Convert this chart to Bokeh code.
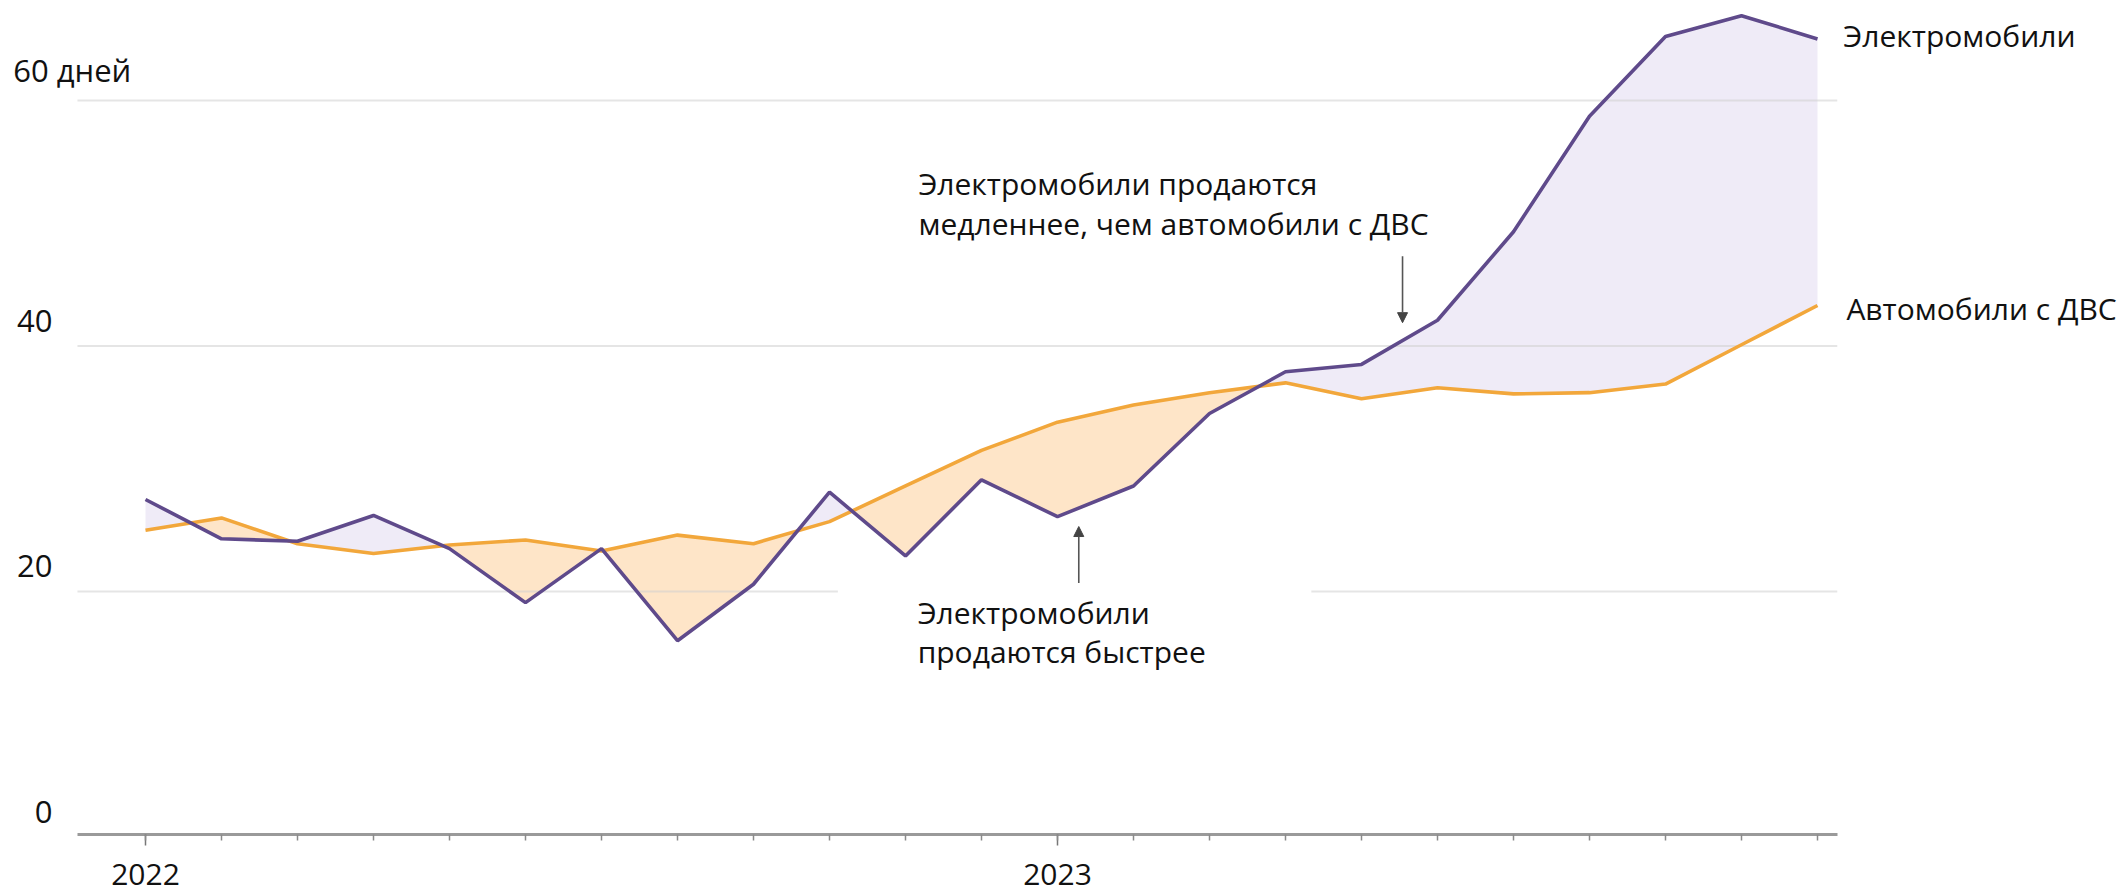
import numpy as np
from bokeh.plotting import figure
from bokeh.models import Range1d, FixedTicker, Label, Arrow, NormalHead
from bokeh.embed import file_html
from bokeh.resources import INLINE

# ---- data (days to sell), monthly Jan 2022 .. Nov 2023 ----
months = list(range(23))
ev_days = [27.5, 24.3, 24.1, 26.2, 23.5, 19.1, 23.5, 16.0, 20.6, 28.1, 22.9, 29.1,
           26.1, 28.6, 34.5, 37.9, 38.5, 42.1, 49.3, 58.7, 65.2, 66.9, 65.0]
ice_days = [25.0, 26.0, 23.9, 23.1, 23.8, 24.2, 23.3, 24.6, 23.9, 25.7, 28.6, 31.5,
            33.8, 35.2, 36.2, 37.0, 35.7, 36.6, 36.1, 36.2, 36.9, 40.1, 43.3]
year_ticks = [0, 12]
year_labels = ["2022", "2023"]
y_tick_values = [0, 20, 40, 60]
y_tick_labels = ["0", "20", "40", "60 дней"]
series_names = ["Электромобили", "Автомобили с ДВС"]

FONT = "Open Sans"
FS = "30px"
FS_Y = "31px"
TXT = "#111111"
PURPLE = "#5f4a8b"
ORANGE = "#f2a73b"
PURPLE_FILL = "#efebf7"
ORANGE_FILL = "#fee5c8"

# insert crossing points so fills switch colour exactly where lines cross
xs, ev_d, ice_d = [], [], []
for i in range(len(months)):
    xs.append(months[i]); ev_d.append(ev_days[i]); ice_d.append(ice_days[i])
    if i < len(months) - 1:
        d0 = ev_days[i] - ice_days[i]
        d1 = ev_days[i + 1] - ice_days[i + 1]
        if d0 * d1 < 0:
            t = d0 / (d0 - d1)
            xc = months[i] + t * (months[i + 1] - months[i])
            yc = ev_days[i] + t * (ev_days[i + 1] - ev_days[i])
            xs.append(xc); ev_d.append(yc); ice_d.append(yc)
xs = np.array(xs); ev_d = np.array(ev_d); ice_d = np.array(ice_d)

W, H = 2124, 892
PX_X = 76.0          # px per month
X_ORIGIN = 145.0     # px of first month
PX_Y = 12.28         # px per day
Y_ZERO = 836.7       # px of value 0
BOTTOM = 58          # px below frame

x_start = -X_ORIGIN / PX_X
x_end = (W - X_ORIGIN) / PX_X
y_end = Y_ZERO / PX_Y
y_start = -((H - BOTTOM) - Y_ZERO) / PX_Y

AX0, AX1 = -0.895, 22.26   # extent of axis line / gridlines

p = figure(width=W, height=H, output_backend="svg", toolbar_location=None,
           x_range=Range1d(x_start, x_end), y_range=Range1d(y_start, y_end),
           y_axis_location=None, min_border_left=0, min_border_right=0,
           min_border_top=0, min_border_bottom=BOTTOM)
p.outline_line_color = None
p.grid.visible = False
p.background_fill_color = "white"
p.border_fill_color = "white"

# fills
p.varea(x=xs, y1=ice_d, y2=np.maximum(ev_d, ice_d), fill_color=PURPLE_FILL)
p.varea(x=xs, y1=np.minimum(ev_d, ice_d), y2=ice_d, fill_color=ORANGE_FILL)

# gridlines (with a gap behind the lower annotation)
p.segment(x0=[AX0, AX0, AX0, 15.34], y0=[60, 40, 20, 20], x1=[AX1, AX1, 9.11, AX1], y1=[60, 40, 20, 20],
          line_color="#cfcfcf", line_alpha=0.55, line_width=2)

# lines
p.line(months, ice_days, line_color=ORANGE, line_width=3.6)
p.line(months, ev_days, line_color=PURPLE, line_width=3.6)

# x axis
ax = p.xaxis[0]
ax.bounds = (AX0, AX1)
ax.ticker = FixedTicker(ticks=year_ticks, minor_ticks=months)
ax.major_label_overrides = {t: l for t, l in zip(year_ticks, year_labels)}
ax.axis_line_color = "#9a9a9a"
ax.axis_line_width = 3
ax.major_tick_line_color = "#777777"
ax.minor_tick_line_color = "#8a8a8a"
ax.major_tick_line_width = 1.5
ax.minor_tick_line_width = 1.5
ax.major_tick_out = 11
ax.major_tick_in = 0
ax.minor_tick_out = 6
ax.minor_tick_in = 0
ax.major_label_standoff = 18
ax.major_label_text_font = FONT
ax.major_label_text_font_size = FS
ax.major_label_text_color = TXT

def lab(x, y, text, align="left", size=FS):
    p.add_layout(Label(x=x, y=y, text=text, text_font=FONT, text_font_size=size,
                       text_color=TXT, text_align=align, text_baseline="alphabetic"))

# y tick labels (above gridlines): numbers right-aligned, unit label left-aligned
for v, t in zip(y_tick_values, y_tick_labels):
    if " " in t:
        lab(-1.74, v + 2.45, t, "left", FS_Y)
    else:
        lab(-1.224, v + 2.05, t, "right", FS_Y)

# series labels
lab(22.34, 65.3, series_names[0])
lab(22.38, 43.05, series_names[1])

# annotations
lab(10.17, 53.2, "Электромобили продаются")
lab(10.17, 49.95, "медленнее, чем автомобили с ДВС")
lab(10.16, 18.3, "Электромобили")
lab(10.16, 15.1, "продаются быстрее")

p.add_layout(Arrow(end=NormalHead(size=10, fill_color="#444444", line_color="#444444"),
                   x_start=16.54, y_start=47.3, x_end=16.54, y_end=41.9,
                   line_color="#555555", line_width=1.6))
p.add_layout(Arrow(end=NormalHead(size=10, fill_color="#444444", line_color="#444444"),
                   x_start=12.28, y_start=20.7, x_end=12.28, y_end=25.3,
                   line_color="#555555", line_width=1.6))

open("out.html", "w").write(file_html(p, INLINE))
